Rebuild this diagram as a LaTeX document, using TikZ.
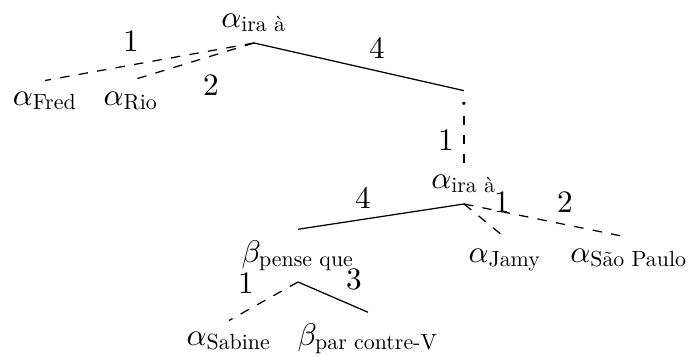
\documentclass[tikz,border=0pt]{standalone}
\usepackage{fontspec}
\usepackage{graphicx}
\newcommand\subtxt[1]{\scalebox{0.7}{\normalsize\textrm{#1}}}
\begin{document}
\begin{tikzpicture}[x=0.32pt,y=-0.32pt,
  tn/.style={anchor=base},
  lab/.style={},
  subst/.style={dashed},
  adj/.style={}]
\useasboundingbox (0,0) rectangle (689,356);
% nodes
\node[tn] (ira1) at (254,27) {$\alpha_{\subtxt{ira à}}$};
\node[tn] (fred) at (45,105) {$\alpha_{\subtxt{Fred}}$};
\node[tn] (rio) at (131,105) {$\alpha_{\subtxt{Rio}}$};
\node[tn] (dot) at (464,105) {.};
\node[tn] (ira2) at (464,188) {$\alpha_{\subtxt{ira à}}$};
\node[tn] (pense) at (298,262) {$\beta_{\subtxt{pense que}}$};
\node[tn] (jamy) at (505,262) {$\alpha_{\subtxt{Jamy}}$};
\node[tn] (sao) at (629,262) {$\alpha_{\subtxt{São Paulo}}$};
\node[tn] (sabine) at (229,345) {$\alpha_{\subtxt{Sabine}}$};
\node[tn] (par) at (368,345) {$\beta_{\subtxt{par contre-V}}$};
% edges
\draw[subst] (ira1.south) -- (fred.north);
\draw[subst] (ira1.south) -- (rio.north);
\draw[adj] (ira1.south) -- (dot.north);
\draw[subst] (dot.south) -- (ira2.north);
\draw[adj] (ira2.south) -- (pense.north);
\draw[subst] (ira2.south) -- (jamy.north);
\draw[subst] (ira2.south) -- (sao.north);
\draw[subst] (pense.south) -- (sabine.north);
\draw[adj] (pense.south) -- (par.north);
% edge labels
\node[lab] (l1) at (131,41) {1};
\node[lab] (l2) at (211,85) {2};
\node[lab] (l3) at (377,48) {4};
\node[lab] (l4) at (446,140) {1};
\node[lab] (l5) at (363,198) {4};
\node[lab] (l6) at (502,202) {1};
\node[lab] (l7) at (565,202) {2};
\node[lab] (l8) at (246,283) {1};
\node[lab] (l9) at (354,279) {3};
\end{tikzpicture}
\end{document}
